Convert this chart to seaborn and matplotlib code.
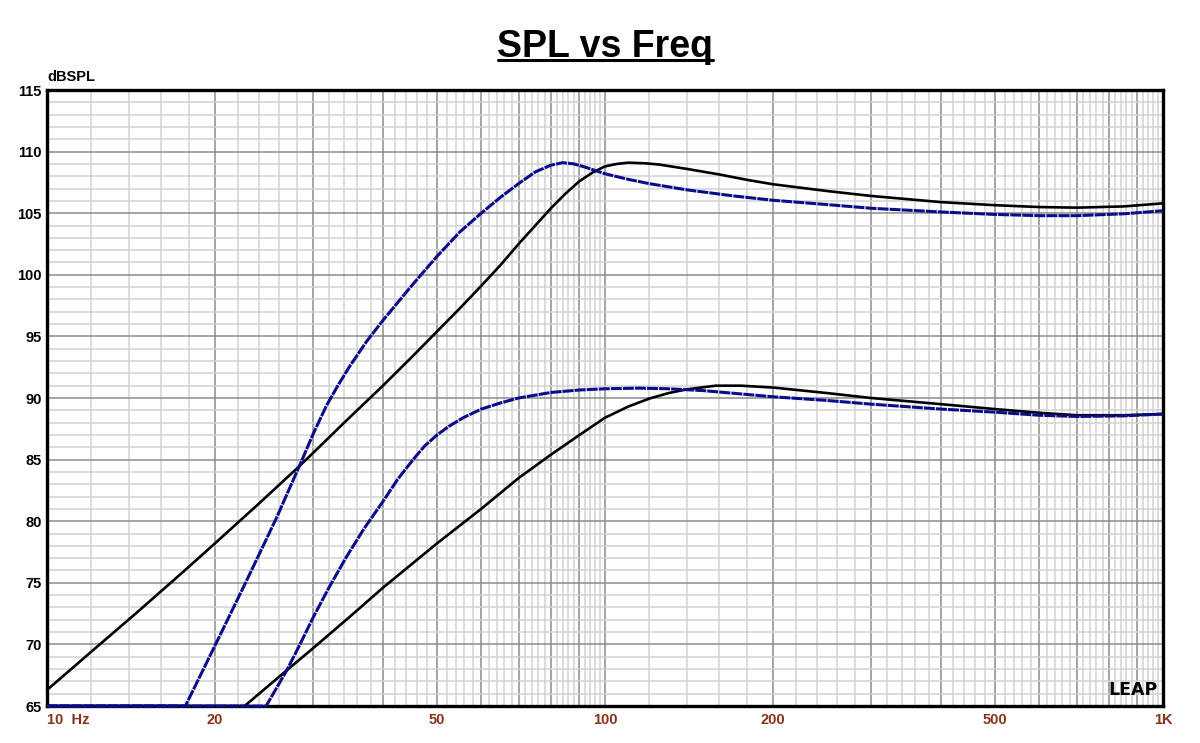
import numpy as np
import pandas as pd
import matplotlib
matplotlib.use("Agg")
import matplotlib.pyplot as plt
import matplotlib.ticker as mticker
from matplotlib.lines import Line2D
import seaborn as sns

# ---- data ----
f_black_hi = [10, 12, 14.5, 17.5, 20, 24, 28, 30, 34, 40, 45, 50, 55, 60, 65, 70, 75, 80, 85, 90,
              95, 100, 105, 110, 118, 125, 140, 160, 180, 200, 250, 300, 400, 500, 600, 700, 850, 1000]
spl_black_hi = [66.3, 69.4, 72.6, 75.85, 78.2, 81.45, 84.25, 85.55, 87.95, 91.0, 93.3, 95.4, 97.3,
                99.1, 100.8, 102.5, 104.0, 105.4, 106.6, 107.6, 108.3, 108.8, 109.0, 109.1, 109.05,
                108.95, 108.6, 108.15, 107.7, 107.35, 106.8, 106.4, 105.9, 105.65, 105.5, 105.45,
                105.55, 105.8]

f_blue_hi = [10, 17.7, 20, 22.8, 25.8, 28.6, 30, 31.7, 33.3, 34.9, 37.4, 40,
             45, 50, 55, 60, 65, 70, 75, 80, 84, 88, 92, 100, 110, 120, 140, 170, 200, 250, 300,
             400, 500, 600, 700, 850, 1000]
spl_blue_hi = [65, 65, 69.9, 75.2, 80.3, 84.9, 87.1, 89.4, 91.1, 92.6, 94.6,
               96.3, 99.1, 101.5, 103.5, 105.0, 106.3, 107.4, 108.35, 108.9, 109.1, 109.0, 108.75,
               108.2, 107.75, 107.4, 106.9, 106.4, 106.05, 105.7, 105.4, 105.1, 104.9, 104.8, 104.8,
               104.95, 105.2]

f_black_lo = [10, 22.6, 26.9, 30, 35, 40, 45, 50, 60, 70, 80, 90, 100, 110, 120, 130, 140, 158, 175,
              200, 250, 300, 400, 500, 600, 700, 850, 1000]
spl_black_lo = [65, 65, 67.9, 69.7, 72.3, 74.6, 76.5, 78.2, 81.0, 83.5, 85.4, 87.0, 88.4, 89.3,
                89.95, 90.4, 90.7, 91.0, 91.0, 90.85, 90.4, 90.0, 89.5, 89.1, 88.8, 88.6, 88.6, 88.7]

f_blue_lo = [10, 24.7, 26.9, 28.4, 30, 32, 34.4, 37, 40, 42.5, 45.3, 47.5, 50, 52.5, 55.7, 60, 65,
             70, 80, 90, 100, 115, 130, 150, 200, 250, 300, 400, 500, 600, 700, 850, 1000]
spl_blue_lo = [65, 65, 67.9, 70.0, 72.2, 74.6, 77.1, 79.4, 81.6, 83.4, 85.0, 86.1, 87.0, 87.7, 88.4,
               89.1, 89.6, 90.0, 90.45, 90.65, 90.75, 90.8, 90.75, 90.6, 90.1, 89.8, 89.5, 89.1,
               88.85, 88.6, 88.5, 88.55, 88.7]

y_ticks = [65, 70, 75, 80, 85, 90, 95, 100, 105, 110, 115]
x_label_pos = [20, 50, 100, 200, 500, 1000]
x_label_txt = ["20", "50", "100", "200", "500", "1K"]

# ---- style ----
sns.set_style("white")
plt.rcParams["font.family"] = ["Liberation Sans", "DejaVu Sans"]
plt.rcParams["text.color"] = "black"
plt.rcParams["ytick.color"] = "black"
plt.rcParams["xtick.color"] = "black"

fig = plt.figure(figsize=(12, 7.43), dpi=100)
ax = fig.add_axes([47 / 1200, 1 - 706 / 743, (1163 - 47) / 1200, (706 - 90) / 743])

black = "black"
blue = "#0c0c8a"

def draw(f, s, color, dashed):
    df = pd.DataFrame({"f": f, "spl": s})
    sns.lineplot(data=df, x="f", y="spl", ax=ax, color=color, lw=2.2 if dashed else 1.9,
                 estimator=None, sort=True, zorder=4 if dashed else 3, clip_on=False)
    ln = ax.lines[-1]
    ln.set_solid_joinstyle("round")
    ln.set_dash_joinstyle("round")
    if dashed:
        ln.set_dashes((3.6, 0.35))

draw(f_black_hi, spl_black_hi, black, False)
draw(f_black_lo, spl_black_lo, black, False)
draw(f_blue_hi, spl_blue_hi, blue, True)
draw(f_blue_lo, spl_blue_lo, blue, True)

ax.set_xscale("log")
ax.set_xlim(10, 1000)
ax.set_ylim(65, 115)

# grid positions
maj_x = [m * b for b in (10, 100) for m in range(1, 10)] + [1000]
min_x = [m * b + k * b / 5 for b in (10, 100) for m in range(1, 10) for k in range(1, 5)]
ax.xaxis.set_major_locator(mticker.FixedLocator(maj_x))
ax.xaxis.set_minor_locator(mticker.FixedLocator(min_x))
ax.xaxis.set_major_formatter(mticker.NullFormatter())
ax.xaxis.set_minor_formatter(mticker.NullFormatter())
ax.yaxis.set_major_locator(mticker.FixedLocator(y_ticks))
ax.yaxis.set_minor_locator(mticker.MultipleLocator(1))
ax.grid(True, which="minor", color="#d2d2d2", lw=1.1, zorder=0)
ax.grid(True, which="major", color="#8c8c8c", lw=1.1, zorder=1)
ax.set_axisbelow(True)
ax.tick_params(which="both", length=0)
ax.set_yticklabels([str(v) for v in y_ticks], fontsize=10.5, fontweight="bold", color="black")
ax.tick_params(axis="y", pad=4)
ax.set_xlabel("")
ax.set_ylabel("")

for sp in ax.spines.values():
    sp.set_visible(True)
    sp.set_color("black")
    sp.set_linewidth(2.4)
    sp.set_zorder(3.5)

# x labels (brown)
brown = "#86331c"
trans = ax.get_xaxis_transform()
for pos, txt in zip(x_label_pos, x_label_txt):
    ax.text(pos, -0.012, txt, transform=trans, ha="center", va="top", fontsize=10.5,
            fontweight="bold", color=brown)
ax.text(10, -0.012, "10  Hz", transform=trans, ha="left", va="top", fontsize=10.5,
        fontweight="bold", color=brown)

# y unit label
fig.text(47 / 1200, 1 - 77 / 743, "dBSPL", ha="left", va="center", fontsize=10.5,
         fontweight="bold", color="black")

# title with underline
fig.text(605 / 1200, 1 - 57 / 743, "SPL vs Freq", ha="center", va="baseline", fontsize=27,
         fontweight="bold", color="black")
fig.add_artist(Line2D([498 / 1200, 713 / 1200], [1 - 60 / 743, 1 - 60 / 743], color="black", lw=2.2))

# LEAP logo
ax.text(0.995, 0.012, "LEAP", transform=ax.transAxes, ha="right", va="bottom", fontsize=12.5,
        fontweight="heavy", family="DejaVu Sans", color="black", zorder=5)

fig.savefig("out.png", dpi=100, facecolor="white")
